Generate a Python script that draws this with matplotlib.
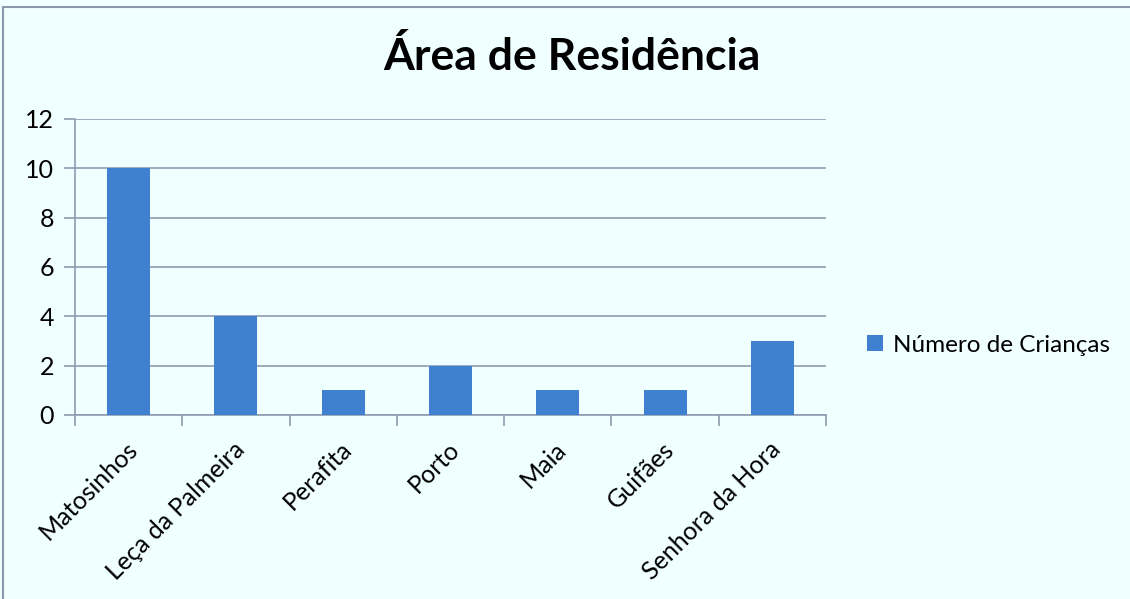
import matplotlib
matplotlib.use("Agg")
import matplotlib.pyplot as plt
from matplotlib.patches import Rectangle
import numpy as np

categories = ["Matosinhos", "Leça da Palmeira", "Perafita", "Porto", "Maia", "Guifães", "Senhora da Hora"]
values = [10, 4, 1, 2, 1, 1, 3]
series_name = "Número de Crianças"
title = "Área de Residência"
yticks = [0, 2, 4, 6, 8, 10, 12]

plt.rcParams['font.family'] = ['Lato', 'DejaVu Sans']

bg = "#F0FFFF"
grid_c = "#8E9CB2"
bar_c = "#3F80D0"

W, H = 1130, 599
fig = plt.figure(figsize=(W / 100, H / 100), dpi=100, facecolor=bg)
fig.patches.append(Rectangle((3 / W, -0.1), 1.2, 1 - 7 / H + 0.1, transform=fig.transFigure,
                             fill=False, edgecolor="#8A96AA", linewidth=1.5))

left, right = 75 / W, 826 / W
bottom, top = 1 - 415 / H, 1 - 119 / H
ax = fig.add_axes([left, bottom, right - left, top - bottom])
ax.set_facecolor(bg)

x = np.arange(len(categories))
ax.bar(x, values, width=0.4, color=bar_c, label=series_name, zorder=3)

ax.set_xlim(-0.5, len(categories) - 0.5)
ax.set_ylim(0, 12)
ax.set_yticks(yticks)
ax.set_yticklabels([str(v) for v in yticks], fontsize=18)
ax.yaxis.grid(True, color=grid_c, linewidth=1.2, zorder=0)

ax.set_xticks(np.arange(-0.5, len(categories), 1.0), minor=False)
ax.set_xticklabels([])
ax.tick_params(axis="x", length=8, color=grid_c, width=1.2, direction="out")
ax.tick_params(axis="y", length=8, color=grid_c, width=1.2, direction="out", pad=7)

for i, lab in enumerate(categories):
    ax.text(i - 0.03, -0.9, lab, rotation=45, ha="right", va="top",
            rotation_mode="anchor", fontsize=18, transform=ax.transData)

for s in ["top", "right"]:
    ax.spines[s].set_visible(False)
for s in ["left", "bottom"]:
    ax.spines[s].set_color(grid_c)
    ax.spines[s].set_linewidth(1.2)

fig.text(572 / W, 1 - 57 / H, title, ha="center", va="center", fontsize=32, fontweight="bold")

fig.legend(loc="center left", bbox_to_anchor=(867 / W, 1 - 345 / H), frameon=False,
           fontsize=17.5, handlelength=0.65, handleheight=0.65, handletextpad=0.4,
           borderaxespad=0, borderpad=0)

fig.savefig("out.png", dpi=100, facecolor=bg)
